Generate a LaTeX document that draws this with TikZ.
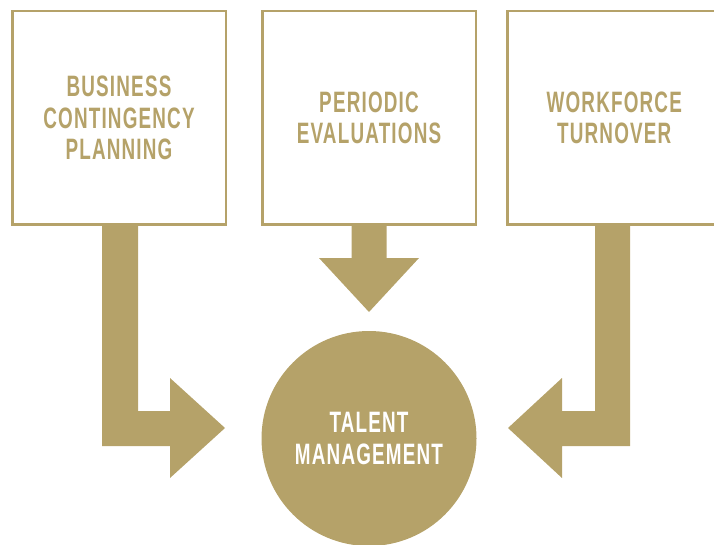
\documentclass[tikz,border=0pt]{standalone}
\usepackage{fontspec}
\newfontfamily\condfont[FakeStretch=0.64,LetterSpace=4]{Liberation Sans Bold}
\definecolor{gold}{RGB}{181,162,105}
\begin{document}
\begin{tikzpicture}[x=1pt,y=-1pt,
  box/.style={draw=gold,line width=2.5pt,fill=white,minimum width=213.5pt,minimum height=213.5pt,
    inner sep=0pt,align=center,text=gold,font=\condfont\fontsize{29.5}{31.5}\selectfont},
  hub/.style={circle,fill=gold,minimum size=215pt,inner sep=0pt,align=center,text=white,
    font=\condfont\fontsize{29.5}{31.5}\selectfont},
  flow/.style={fill=gold}]
\useasboundingbox (0,0) rectangle (714,545);
\begin{scope}
\clip (0,0) rectangle (714,545);
\node[box] (bcp) at (119,118) {BUSINESS\\CONTINGENCY\\PLANNING};
\node[box] (pe) at (369,118) {PERIODIC\\EVALUATIONS};
\node[box] (wt) at (614.25,118) {WORKFORCE\\TURNOVER};
\node[hub] (tm) at (369,438.5) {TALENT\\MANAGEMENT};
% left arrow
\coordinate (l1) at (bcp.south -| 102,0);
\fill[flow] (l1) -- ++(36,0) -- (138,411) -- (170,411) -- (170,378) -- (225,428) -- (170,478)
  -- (170,446) -- (102,446) -- cycle;
% middle arrow
\coordinate (m1) at (pe.south -| 351.5,0);
\fill[flow] (m1) -- ++(35,0) -- (386.5,258) -- (419,258) -- (369,312) -- (319,258) -- (351.5,258) -- cycle;
% right arrow
\coordinate (r1) at (wt.south -| 595,0);
\fill[flow] (r1) -- ++(35,0) -- (630,446) -- (562,446) -- (562,478) -- (508,428) -- (562,378) -- (562,411) -- (595,411) -- cycle;
\end{scope}
\end{tikzpicture}
\end{document}
